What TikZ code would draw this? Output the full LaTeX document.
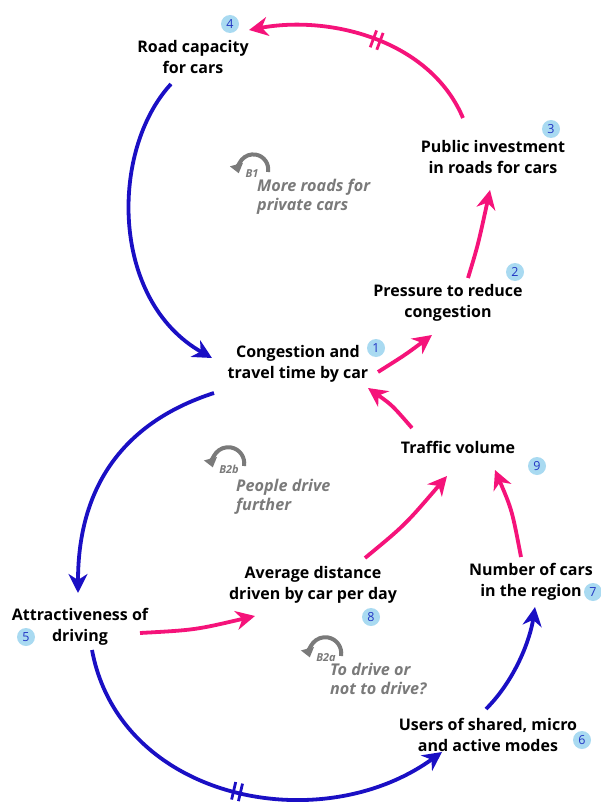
\documentclass[tikz,border=0pt]{standalone}
\usepackage{fontspec}
\setmainfont{Open Sans}
\usetikzlibrary{arrows.meta,decorations.markings,calc}
\definecolor{pinkc}{HTML}{F5137A}
\definecolor{bluec}{HTML}{1A0FC4}
\definecolor{badgec}{HTML}{A9DAF1}
\definecolor{badgetxt}{HTML}{2236C4}
\definecolor{loopg}{HTML}{7A7A7A}
\begin{document}
\begin{tikzpicture}[x=1pt,y=-1pt,
  var/.style={font=\fontsize{16}{21.5}\selectfont\bfseries, align=center, inner sep=0pt},
  badge/.style={circle, fill=badgec, minimum size=18pt, inner sep=0pt, font=\fontsize{12.5}{12.5}\selectfont, text=badgetxt},
  pinkarr/.style={draw=pinkc, line width=3.8pt, -{Stealth[length=19pt,width=19pt,inset=6pt]}},
  bluearr/.style={draw=bluec, line width=3.8pt, -{Stealth[length=19pt,width=19pt,inset=6pt]}},
  hashmark/.style 2 args={postaction={decorate,decoration={markings,
     mark=at position #1 with {\draw[#2,line width=2.8pt,-] (-3.5,-9)--(-3.5,9) (3.5,-9)--(3.5,9);}}}},
  looptxt/.style={font=\fontsize{16.2}{19}\selectfont\bfseries\itshape, text=loopg, align=left, inner sep=0pt, anchor=north west},
  looptag/.style={font=\fontsize{11}{11}\selectfont\bfseries\itshape, text=loopg, inner sep=0pt},
  loopicon/.style={draw=loopg, line width=4pt, -{Triangle[length=9pt,width=13pt]}}
]
\useasboundingbox (0,0) rectangle (601,805);

% variables
\node[var] (n4) at (193,57) {Road capacity\\for cars};
\node[var] (n3) at (493,157) {Public investment\\in roads for cars};
\node[var] (n2) at (448,303) {Pressure to reduce\\congestion};
\node[var] (n1) at (298,364) {Congestion and\\travel time by car};
\node[var] (n9) at (458,447) {Traffic volume};
\node[var] (n7) at (531,582) {Number of cars\\in the region};
\node[var] (n8) at (313,585) {Average distance\\driven by car per day};
\node[var] (n5) at (80,627) {Attractiveness of\\driving};
\node[var] (n6) at (488,735) {Users of shared, micro\\and active modes};

% badges
\node[badge] (b4) at (230,24) {4};
\node[badge] (b3) at (551,129) {3};
\node[badge] (b2) at (515,272) {2};
\node[badge] (b1) at (376,348) {1};
\node[badge] (b9) at (537,466) {9};
\node[badge] (b7) at (593,592) {7};
\node[badge] (b8) at (371,617) {8};
\node[badge] (b5) at (26,637) {5};
\node[badge] (b6) at (582,740) {6};

% pink links
\draw[pinkarr, hashmark={0.48}{pinkc}] ($(n3)+(-30,-39)$) .. controls (430,40) and (330,15) .. ($(n4)+(56,-27)$);
\draw[pinkarr] ($(n2)+(20,-25)$) .. controls (478,245) .. ($(n3)+(-3,33)$);
\draw[pinkarr] ($(n1)+(80,8)$) .. controls (405,355) .. ($(n2)+(-16,32)$);
\draw[pinkarr] ($(n9)+(-46,-19)$) .. controls (392,405) .. ($(n1)+(70,24)$);
\draw[pinkarr] ($(n8)+(52,-27)$) .. controls (405,525) .. ($(n9)+(-11,29)$);
\draw[pinkarr] ($(n7)+(-10,-25)$) .. controls (512,510) .. ($(n9)+(37,23)$);
\draw[pinkarr] ($(n5)+(60,6)$) .. controls (195,630) .. ($(n8)+(-58,31)$);

% blue links
\draw[bluearr] ($(n4)+(-22,27)$) .. controls (110,150) and (110,300) .. ($(n1)+(-86,-6)$);
\draw[bluearr] ($(n1)+(-84,29)$) .. controls (130,420) and (78,480) .. ($(n5)+(-2,-34)$);
\draw[bluearr, hashmark={0.5}{bluec}] ($(n5)+(12,23)$) .. controls (120,800) and (320,840) .. ($(n6)+(-46,17)$);
\draw[bluearr] ($(n6)+(-2,-26)$) .. controls (515,680) and (530,640) .. ($(n7)+(4,25)$);

% loop markers
\draw[loopicon] (268,172) arc[start angle=10, end angle=-195, radius=15];
\node[looptag] (tB1) at (252,174) {B1};
\node[looptxt] (lB1) at (257,179) {More roads for\\private cars};

\draw[loopicon] (244,466) arc[start angle=10, end angle=-195, radius=16];
\node[looptag] (tB2b) at (229,469) {B2b};
\node[looptxt] (lB2b) at (236,479) {People drive\\further};

\draw[loopicon] (341,656) arc[start angle=10, end angle=-195, radius=16];
\node[looptag] (tB2a) at (326,658) {B2a};
\node[looptxt] (lB2a) at (330,663) {To drive or\\not to drive?};
\end{tikzpicture}
\end{document}
